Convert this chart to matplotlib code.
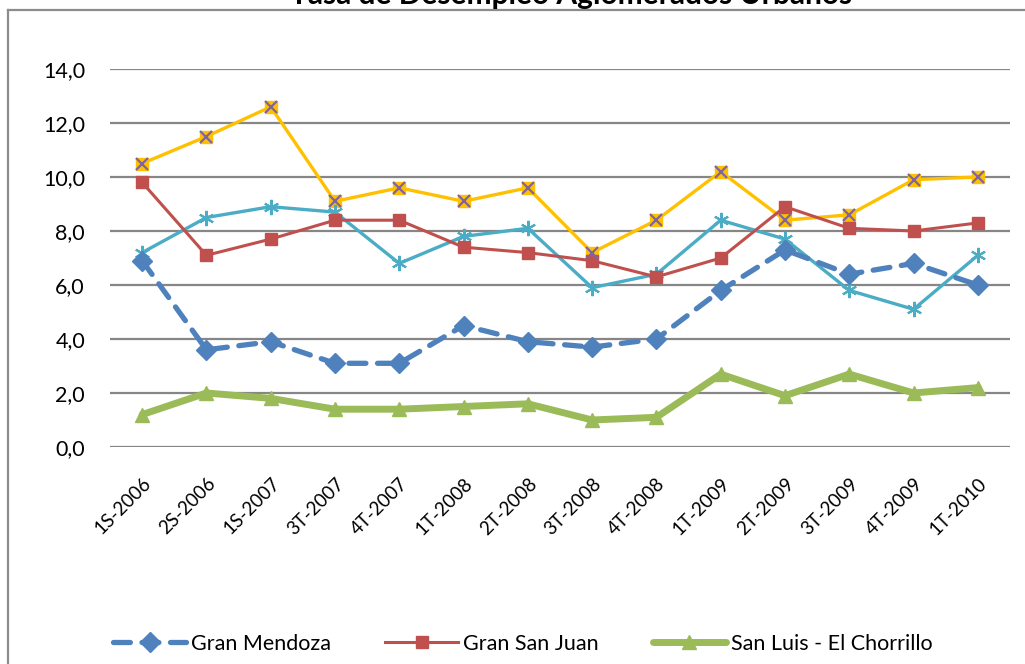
import matplotlib
matplotlib.use("Agg")
import matplotlib.pyplot as plt
import matplotlib.transforms as mtransforms
from matplotlib.lines import Line2D

# Data (tasa de desempleo, %)
periodos = ['1S-2006', '2S-2006', '1S-2007', '3T-2007', '4T-2007', '1T-2008', '2T-2008',
            '3T-2008', '4T-2008', '1T-2009', '2T-2009', '3T-2009', '4T-2009', '1T-2010']
gran_mendoza = [6.9, 3.6, 3.9, 3.1, 3.1, 4.5, 3.9, 3.7, 4.0, 5.8, 7.3, 6.4, 6.8, 6.0]
gran_san_juan = [9.8, 7.1, 7.7, 8.4, 8.4, 7.4, 7.2, 6.9, 6.3, 7.0, 8.9, 8.1, 8.0, 8.3]
san_luis = [1.2, 2.0, 1.8, 1.4, 1.4, 1.5, 1.6, 1.0, 1.1, 2.7, 1.9, 2.7, 2.0, 2.2]
serie_4 = [10.5, 11.5, 12.6, 9.1, 9.6, 9.1, 9.6, 7.2, 8.4, 10.2, 8.4, 8.6, 9.9, 10.0]
serie_5 = [7.2, 8.5, 8.9, 8.7, 6.8, 7.8, 8.1, 5.9, 6.4, 8.4, 7.7, 5.8, 5.1, 7.1]
nombres = ['Gran Mendoza', 'Gran San Juan', 'San Luis - El Chorrillo']
yticks = [0, 2, 4, 6, 8, 10, 12, 14]

plt.rcParams['font.family'] = ['Lato', 'DejaVu Sans']

W, H = 1025, 664
fig = plt.figure(figsize=(W / 100, H / 100), dpi=100)
ax = fig.add_axes([110 / W, 1 - 447 / H, 900 / W, 378 / H])
x = list(range(len(periodos)))

# chart border (Excel frame, partly cropped)
fig.add_artist(Line2D([8 / W, 8 / W], [0, 1 - 10 / H], color='#8c8c8c', lw=1.6))
fig.add_artist(Line2D([8 / W, 1.0], [1 - 10 / H, 1 - 10 / H], color='#8c8c8c', lw=1.6))

ax.plot(x, serie_4, color='#FFC000', lw=2.4, marker='s', ms=9,
        markerfacecolor='#FFC000', markeredgecolor='#FFC000', zorder=3)
ax.plot(x, serie_4, ls='none', marker='x', ms=9, mew=1.6, color='#8064A2', zorder=4)
ax.plot(x, serie_5, color='#4BACC6', lw=2.4, marker=(6, 2, 0), ms=11, mew=1.5, zorder=3)
h2, = ax.plot(x, gran_san_juan, color='#C0504D', lw=2.2, marker='s', ms=9, zorder=3)
h3, = ax.plot(x, san_luis, color='#9BBB59', lw=5, marker='^', ms=10, zorder=3,
              solid_joinstyle='round', solid_capstyle='round')
h1, = ax.plot(x, gran_mendoza, color='#4F81BD', lw=3.8, ls=(0, (3.2, 2.2)), marker='D', ms=10,
              dash_capstyle='round', zorder=5)

ax.set_xlim(-0.5, len(periodos) - 0.5)
ax.set_ylim(0, 14)
ax.set_yticks(yticks)
ax.set_yticklabels([f'{v:.1f}'.replace('.', ',') for v in yticks])
ax.set_xticks(x)
ax.set_xticklabels(periodos, rotation=45, ha='right', va='top', rotation_mode='anchor')
offset = mtransforms.ScaledTranslation(4 / 72, 0, fig.dpi_scale_trans)
for lbl in ax.get_xticklabels():
    lbl.set_transform(lbl.get_transform() + offset)
ax.tick_params(axis='y', length=0, pad=18, labelsize=15.5)
ax.tick_params(axis='x', length=0, pad=20, labelsize=13.5)
ax.grid(axis='y', color='#868686', lw=1.6)
ax.set_axisbelow(True)
for s in ax.spines.values():
    s.set_visible(False)

fig.text(571 / W, 1 - 4 / H, 'Tasa de Desempleo Aglomerados Urbanos', ha='center',
         va='baseline', fontsize=21.5, fontweight='bold')

fig.legend([h1, h2, h3], nombres,
           ncol=3, loc='upper left', bbox_to_anchor=(113 / W, 1 - 634 / H), frameon=False,
           fontsize=15.5, handlelength=3.4, handletextpad=0.23, columnspacing=2.5,
           borderpad=0, borderaxespad=0)

fig.savefig('out.png', dpi=100)
